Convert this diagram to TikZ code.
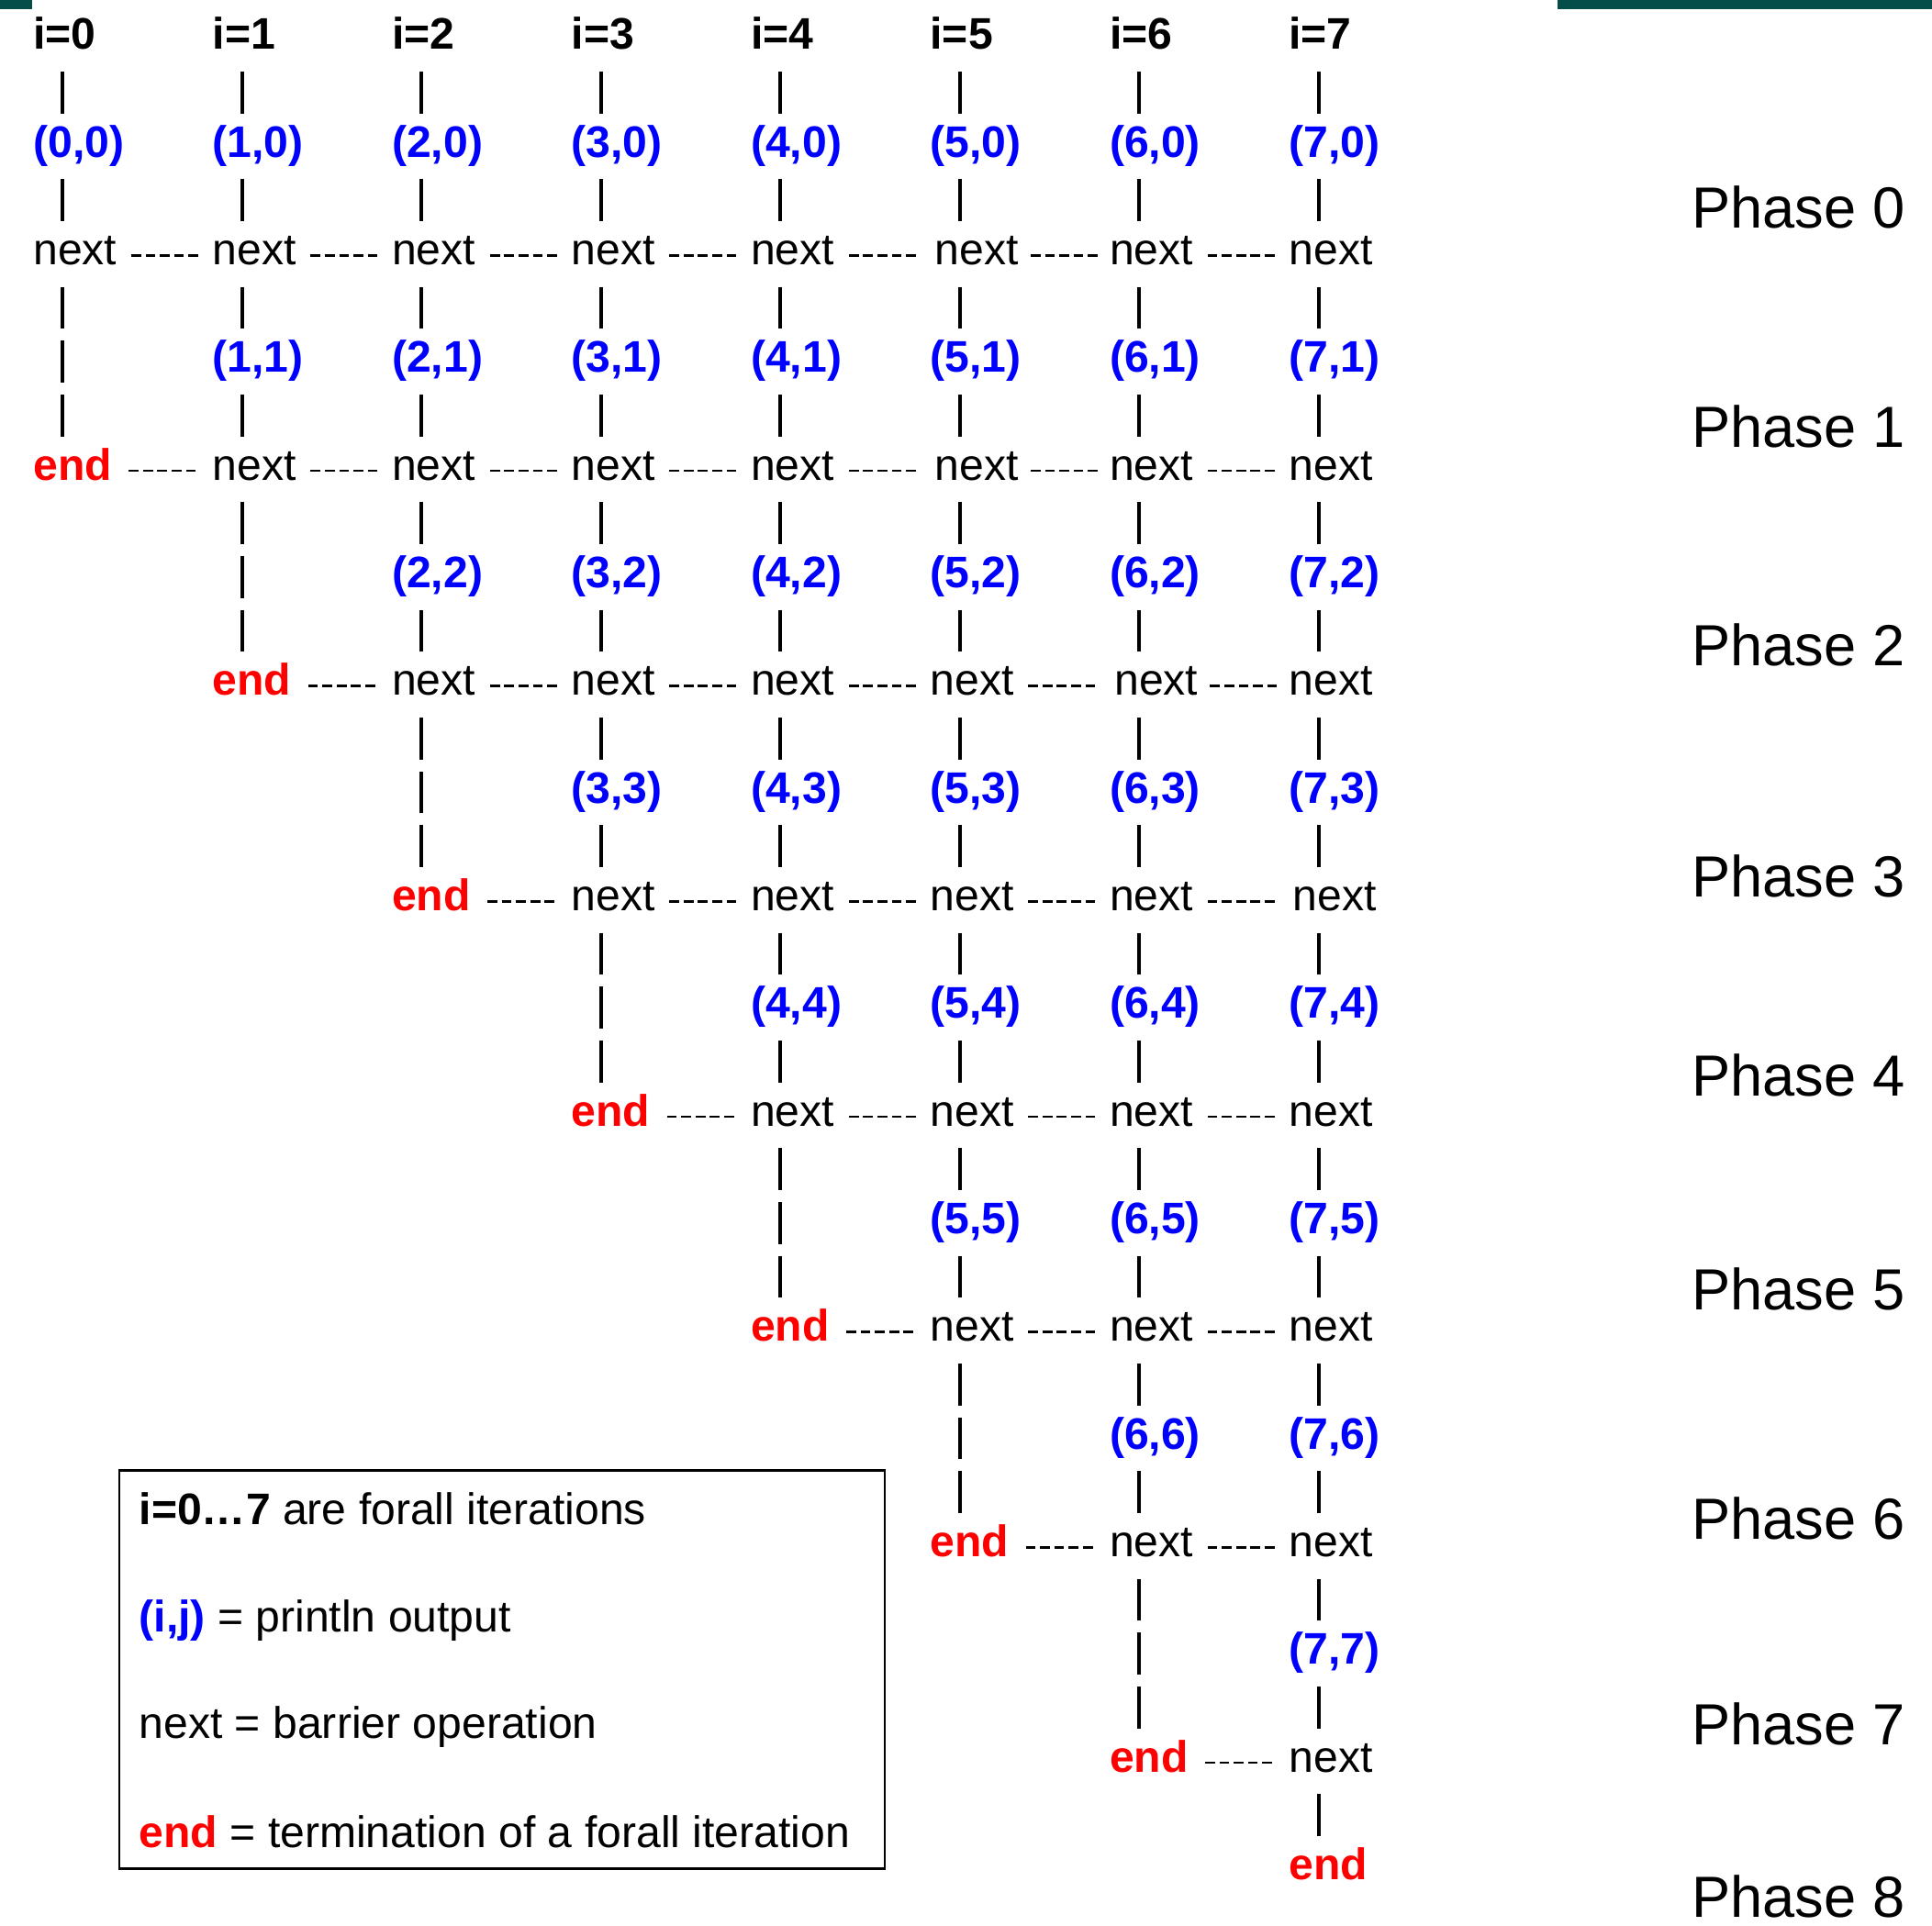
\documentclass[tikz,border=0pt]{standalone}
\usepackage{fontspec}
\setmainfont{Liberation Sans}
\usetikzlibrary{calc}
\definecolor{slidegreen}{RGB}{4,77,72}

\begin{document}
\begin{tikzpicture}[x=0.1mm,y=0.1mm,
	every node/.style={inner sep=0pt,outer sep=0pt,anchor=base west,font=\fontsize{10.2}{12}\selectfont},
	iter/.style={font=\fontsize{10.2}{12}\selectfont\bfseries},
	pout/.style={text=blue,font=\fontsize{10.2}{12}\selectfont\bfseries},
	nxt/.style={},
	fin/.style={text=red,font=\fontsize{10.2}{12}\selectfont\bfseries},
	phase/.style={anchor=base east,font=\fontsize{13.4}{16}\selectfont},
	bars/.style={line width=0.85pt,shorten <=1.82mm,shorten >=3.52mm,dash pattern=on 3.4mm off 5.34mm},
	lastbars/.style={line width=0.85pt,shorten <=1.82mm,shorten >=3.52mm,dash pattern=on 3.4mm off 0.97mm},
	hdash/.style={line width=0.6pt,dash pattern=on 0.8mm off 0.36mm,
		to path={($(\tikztostart.base east)!.5!(\tikztotarget.base west)$) +(-2.72mm,0.75mm) -- +(2.72mm,0.75mm)}}]
	\useasboundingbox (0,0) rectangle (1568,-1563);
	\fill[slidegreen] (0,0) rectangle (26,-7.5);
	\fill[slidegreen] (1264,0) rectangle (1568,-7.5);

	% iterations
	\node[iter] (h0) at (27,-40) {i=0};
	\node[iter] (h1) at (172.6,-40) {i=1};
	\node[iter] (h2) at (318.2,-40) {i=2};
	\node[iter] (h3) at (463.8,-40) {i=3};
	\node[iter] (h4) at (609.4,-40) {i=4};
	\node[iter] (h5) at (755,-40) {i=5};
	\node[iter] (h6) at (900.6,-40) {i=6};
	\node[iter] (h7) at (1046.2,-40) {i=7};

	% i=0
	\node[pout] (p00) at (27,-127.4) {(0,0)};
	\node[nxt] (n00) at (27,-214.8) {next};
	\node[fin] (e0) at (27,-389.6) {end};

	% i=1
	\node[pout] (p10) at (172.6,-127.4) {(1,0)};
	\node[nxt] (n10) at (172.6,-214.8) {next};
	\node[pout] (p11) at (172.6,-302.2) {(1,1)};
	\node[nxt] (n11) at (172.6,-389.6) {next};
	\node[fin] (e1) at (172.6,-564.4) {end};

	% i=2
	\node[pout] (p20) at (318.2,-127.4) {(2,0)};
	\node[nxt] (n20) at (318.2,-214.8) {next};
	\node[pout] (p21) at (318.2,-302.2) {(2,1)};
	\node[nxt] (n21) at (318.2,-389.6) {next};
	\node[pout] (p22) at (318.2,-477) {(2,2)};
	\node[nxt] (n22) at (318.2,-564.4) {next};
	\node[fin] (e2) at (318.2,-739.2) {end};

	% i=3
	\node[pout] (p30) at (463.8,-127.4) {(3,0)};
	\node[nxt] (n30) at (463.8,-214.8) {next};
	\node[pout] (p31) at (463.8,-302.2) {(3,1)};
	\node[nxt] (n31) at (463.8,-389.6) {next};
	\node[pout] (p32) at (463.8,-477) {(3,2)};
	\node[nxt] (n32) at (463.8,-564.4) {next};
	\node[pout] (p33) at (463.8,-651.8) {(3,3)};
	\node[nxt] (n33) at (463.8,-739.2) {next};
	\node[fin] (e3) at (463.8,-914) {end};

	% i=4
	\node[pout] (p40) at (609.4,-127.4) {(4,0)};
	\node[nxt] (n40) at (609.4,-214.8) {next};
	\node[pout] (p41) at (609.4,-302.2) {(4,1)};
	\node[nxt] (n41) at (609.4,-389.6) {next};
	\node[pout] (p42) at (609.4,-477) {(4,2)};
	\node[nxt] (n42) at (609.4,-564.4) {next};
	\node[pout] (p43) at (609.4,-651.8) {(4,3)};
	\node[nxt] (n43) at (609.4,-739.2) {next};
	\node[pout] (p44) at (609.4,-826.6) {(4,4)};
	\node[nxt] (n44) at (609.4,-914) {next};
	\node[fin] (e4) at (609.4,-1088.8) {end};

	% i=5
	\node[pout] (p50) at (755,-127.4) {(5,0)};
	\node[nxt] (n50) at (755,-214.8) {\kern0.4mm next};
	\node[pout] (p51) at (755,-302.2) {(5,1)};
	\node[nxt] (n51) at (755,-389.6) {\kern0.4mm next};
	\node[pout] (p52) at (755,-477) {(5,2)};
	\node[nxt] (n52) at (755,-564.4) {next};
	\node[pout] (p53) at (755,-651.8) {(5,3)};
	\node[nxt] (n53) at (755,-739.2) {next};
	\node[pout] (p54) at (755,-826.6) {(5,4)};
	\node[nxt] (n54) at (755,-914) {next};
	\node[pout] (p55) at (755,-1001.4) {(5,5)};
	\node[nxt] (n55) at (755,-1088.8) {next};
	\node[fin] (e5) at (755,-1263.6) {end};

	% i=6
	\node[pout] (p60) at (900.6,-127.4) {(6,0)};
	\node[nxt] (n60) at (900.6,-214.8) {next};
	\node[pout] (p61) at (900.6,-302.2) {(6,1)};
	\node[nxt] (n61) at (900.6,-389.6) {next};
	\node[pout] (p62) at (900.6,-477) {(6,2)};
	\node[nxt] (n62) at (900.6,-564.4) {\kern0.4mm next};
	\node[pout] (p63) at (900.6,-651.8) {(6,3)};
	\node[nxt] (n63) at (900.6,-739.2) {next};
	\node[pout] (p64) at (900.6,-826.6) {(6,4)};
	\node[nxt] (n64) at (900.6,-914) {next};
	\node[pout] (p65) at (900.6,-1001.4) {(6,5)};
	\node[nxt] (n65) at (900.6,-1088.8) {next};
	\node[pout] (p66) at (900.6,-1176.2) {(6,6)};
	\node[nxt] (n66) at (900.6,-1263.6) {next};
	\node[fin] (e6) at (900.6,-1438.4) {end};

	% i=7
	\node[pout] (p70) at (1046.2,-127.4) {(7,0)};
	\node[nxt] (n70) at (1046.2,-214.8) {next};
	\node[pout] (p71) at (1046.2,-302.2) {(7,1)};
	\node[nxt] (n71) at (1046.2,-389.6) {next};
	\node[pout] (p72) at (1046.2,-477) {(7,2)};
	\node[nxt] (n72) at (1046.2,-564.4) {next};
	\node[pout] (p73) at (1046.2,-651.8) {(7,3)};
	\node[nxt] (n73) at (1046.2,-739.2) {\kern0.3mm next};
	\node[pout] (p74) at (1046.2,-826.6) {(7,4)};
	\node[nxt] (n74) at (1046.2,-914) {next};
	\node[pout] (p75) at (1046.2,-1001.4) {(7,5)};
	\node[nxt] (n75) at (1046.2,-1088.8) {next};
	\node[pout] (p76) at (1046.2,-1176.2) {(7,6)};
	\node[nxt] (n76) at (1046.2,-1263.6) {next};
	\node[pout] (p77) at (1046.2,-1351) {(7,7)};
	\node[nxt] (n77) at (1046.2,-1438.4) {next};
	\node[fin] (e7) at (1046.2,-1525.8) {end};

	% vertical bars
	\draw[bars] ([xshift=2.4mm]h0.base west) -- ([xshift=2.4mm]n00.base west);
	\draw[lastbars] ([xshift=2.4mm]n00.base west) -- ([xshift=2.4mm]e0.base west);
	\draw[bars] ([xshift=2.4mm]h1.base west) -- ([xshift=2.4mm]n11.base west);
	\draw[lastbars] ([xshift=2.4mm]n11.base west) -- ([xshift=2.4mm]e1.base west);
	\draw[bars] ([xshift=2.4mm]h2.base west) -- ([xshift=2.4mm]n22.base west);
	\draw[lastbars] ([xshift=2.4mm]n22.base west) -- ([xshift=2.4mm]e2.base west);
	\draw[bars] ([xshift=2.4mm]h3.base west) -- ([xshift=2.4mm]n33.base west);
	\draw[lastbars] ([xshift=2.4mm]n33.base west) -- ([xshift=2.4mm]e3.base west);
	\draw[bars] ([xshift=2.4mm]h4.base west) -- ([xshift=2.4mm]n44.base west);
	\draw[lastbars] ([xshift=2.4mm]n44.base west) -- ([xshift=2.4mm]e4.base west);
	\draw[bars] ([xshift=2.4mm]h5.base west) -- ([xshift=2.4mm]n55.base west);
	\draw[lastbars] ([xshift=2.4mm]n55.base west) -- ([xshift=2.4mm]e5.base west);
	\draw[bars] ([xshift=2.4mm]h6.base west) -- ([xshift=2.4mm]n66.base west);
	\draw[lastbars] ([xshift=2.4mm]n66.base west) -- ([xshift=2.4mm]e6.base west);
	\draw[bars] ([xshift=2.4mm]h7.base west) -- ([xshift=2.4mm]n77.base west);
	\draw[lastbars] ([xshift=2.4mm]n77.base west) -- ([xshift=2.4mm]e7.base west);

	% barriers
	\draw[hdash] (n00) to (n10) (n10) to (n20) (n20) to (n30) (n30) to (n40) (n40) to (n50) (n50) to (n60) (n60) to (n70);
	\draw[hdash] (e0) to (n11) (n11) to (n21) (n21) to (n31) (n31) to (n41) (n41) to (n51) (n51) to (n61) (n61) to (n71);
	\draw[hdash] (e1) to (n22) (n22) to (n32) (n32) to (n42) (n42) to (n52) (n52) to (n62) (n62) to (n72);
	\draw[hdash] (e2) to (n33) (n33) to (n43) (n43) to (n53) (n53) to (n63) (n63) to (n73);
	\draw[hdash] (e3) to (n44) (n44) to (n54) (n54) to (n64) (n64) to (n74);
	\draw[hdash] (e4) to (n55) (n55) to (n65) (n65) to (n75);
	\draw[hdash] (e5) to (n66) (n66) to (n76);
	\draw[hdash] (e6) to (n77);

	% phases
	\node[phase] (ph0) at (1546,-185.4) {Phase 0};
	\node[phase] (ph1) at (1546,-362.8) {Phase 1};
	\node[phase] (ph2) at (1546,-540.2) {Phase 2};
	\node[phase] (ph3) at (1546,-728.3) {Phase 3};
	\node[phase] (ph4) at (1546,-889.4) {Phase 4};
	\node[phase] (ph5) at (1546,-1063.4) {Phase 5};
	\node[phase] (ph6) at (1546,-1249.6) {Phase 6};
	\node[phase] (ph7) at (1546,-1416.5) {Phase 7};
	\node[phase] (ph8) at (1546,-1556.5) {Phase 8};

	% legend
	\draw[line width=0.5pt] (96.7,-1193.8) rectangle (718,-1517);
	\node (leg1) at (113,-1237.8) {\textbf{i=0…7} are forall iterations};
	\node (leg2) at (113,-1324.6) {\textcolor{blue}{\textbf{(i,j)}} = println output};
	\node (leg3) at (113,-1411.5) {next = barrier operation};
	\node (leg4) at (113,-1499.7) {\textcolor{red}{\textbf{end}} = termination of a forall iteration};
\end{tikzpicture}
\end{document}
